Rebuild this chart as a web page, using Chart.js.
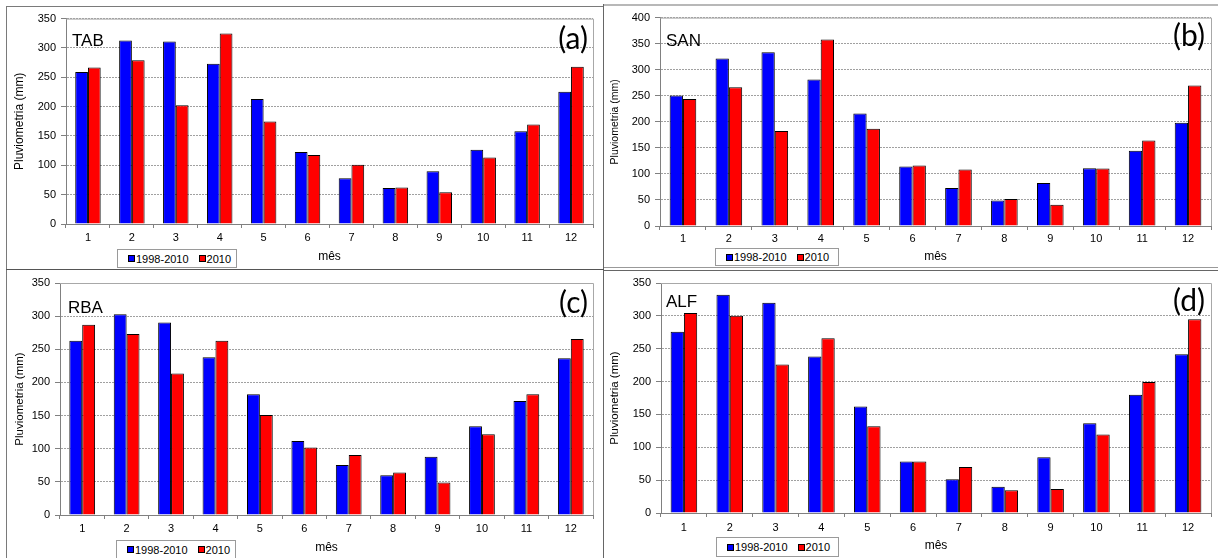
<!DOCTYPE html>
<html><head><meta charset="utf-8">
<script src="https://cdn.jsdelivr.net/npm/chart.js@4.4.1/dist/chart.umd.min.js"></script>
<style>
html,body{margin:0;padding:0;background:#fff;}
body{width:1218px;height:558px;position:relative;overflow:hidden;font-family:"Liberation Sans",Arial,sans-serif;}
.cv{position:absolute;}
.ln{position:absolute;background:#7a7a7a;}
.leg{position:absolute;box-sizing:border-box;border:1px solid #9a9a9a;background:#fff;font-size:11px;color:#000;display:flex;align-items:center;white-space:nowrap;}
.sw{display:inline-block;width:7px;height:7px;box-sizing:border-box;border:1px solid #000;margin-right:1px;}
</style></head><body>
<div class="ln" style="left:6px;top:6px;width:598px;height:1px;"></div>
<div class="ln" style="left:6px;top:6px;width:1px;height:552px;"></div>
<div class="ln" style="left:603px;top:4px;width:1px;height:554px;background:#666;"></div>
<div class="ln" style="left:604px;top:4px;width:614px;height:2px;background:#b8b8b8;"></div>
<div class="ln" style="left:6px;top:269px;width:598px;height:1px;background:#555;"></div>
<div class="ln" style="left:604px;top:267px;width:614px;height:1px;background:#999;"></div>
<div class="ln" style="left:604px;top:270px;width:614px;height:1px;background:#666;"></div>
<script>
// ---- data ----
const months = ['1','2','3','4','5','6','7','8','9','10','11','12'];
const seriesNames = ['1998-2010', '2010'];
const stations = ['TAB', 'SAN', 'RBA', 'ALF'];
const panelTags = ['(a)', '(b)', '(c)', '(d)'];
const xTitle = 'mês';
const yTitle = 'Pluviometria (mm)';
const yTicks350 = [0, 50, 100, 150, 200, 250, 300, 350];
const yTicks400 = [0, 50, 100, 150, 200, 250, 300, 350, 400];

const tabMean = [259, 312.5, 311, 273, 213, 122.5, 78, 61.5, 90, 126.5, 158, 225.5];
const tab2010 = [266.5, 279, 202.5, 324.5, 174.5, 117.5, 101, 62, 54, 113.5, 169.5, 268];
const sanMean = [250.5, 321.5, 333.5, 281, 216, 114, 73, 49, 82.5, 111, 144.5, 198];
const san2010 = [244, 266.5, 182.5, 358, 186.5, 116, 108.5, 52, 41, 110.5, 164, 269.5];
const rbaMean = [263, 303, 290.5, 238, 182, 111.5, 75.5, 60, 88, 134, 172, 236.5];
const rba2010 = [287, 273, 213.5, 263, 151, 102, 90.5, 64, 49, 122, 182, 265.5];
const alfMean = [276, 332, 320, 238, 162, 78.5, 51.5, 40, 85, 136.5, 180, 241.5];
const alf2010 = [304.5, 300, 226, 266, 132, 78.5, 70, 34.5, 36.5, 119.5, 199.5, 295];

// ---- styles / layout ----
const F = '"Liberation Sans", Arial, sans-serif';
const colors = ['#0000ff', '#ff0000'];

const panels = [
  {name:stations[0], tag:panelTags[0], mean:tabMean, cur:tab2010, ticks:yTicks350,
   L:7, T:7, W:596, H:261, yW:59, xH:44, padTop:11, padRight:10, xPad:3, xtPad:3.8,
   ytSize:12, ytPad:5.8, nameDx:6, nameDy:27, tagDx:5, tagDy:20,
   leg:{l:117, t:249, w:120, h:19}},
  {name:stations[1], tag:panelTags[1], mean:sanMean, cur:san2010, ticks:yTicks400,
   L:604, T:6, W:614, H:262, yW:56, xH:42, padTop:11, padRight:7, xPad:2, xtPad:3.8,
   ytSize:10.5, ytPad:4.7, nameDx:6, nameDy:28, tagDx:6, tagDy:18,
   leg:{l:715, t:248, w:124, h:18}},
  {name:stations[2], tag:panelTags[2], mean:rbaMean, cur:rba2010, ticks:yTicks350,
   L:7, T:271, W:596, H:287, yW:53, xH:43, padTop:12, padRight:10, xPad:3, xtPad:2.8,
   ytSize:11.5, ytPad:5.6, nameDx:8, nameDy:30, tagDx:5, tagDy:19,
   leg:{l:116, t:540, w:120, h:19}},
  {name:stations[3], tag:panelTags[3], mean:alfMean, cur:alf2010, ticks:yTicks350,
   L:604, T:271, W:614, H:287, yW:57, xH:45, padTop:12, padRight:7, xPad:4, xtPad:4.8,
   ytSize:11.5, ytPad:4.1, nameDx:5, nameDy:24, tagDx:6, tagDy:17,
   leg:{l:716, t:537, w:123, h:20}}
];

function makeLegend(p) {
  const d = document.createElement('div');
  d.className = 'leg';
  d.style.left = p.leg.l + 'px'; d.style.top = p.leg.t + 'px';
  d.style.width = p.leg.w + 'px'; d.style.height = p.leg.h + 'px';
  d.style.paddingLeft = '10px';
  seriesNames.forEach((n, i) => {
    const s = document.createElement('span');
    s.className = 'sw'; s.style.background = colors[i];
    if (i > 0) s.style.marginLeft = '10px';
    d.appendChild(s);
    const t = document.createElement('span');
    t.textContent = n;
    d.appendChild(t);
  });
  document.body.appendChild(d);
}

function makeChart(p) {
  const cv = document.createElement('canvas');
  cv.className = 'cv';
  cv.style.left = p.L + 'px'; cv.style.top = p.T + 'px';
  cv.width = p.W; cv.height = p.H;
  cv.style.width = p.W + 'px'; cv.style.height = p.H + 'px';
  document.body.appendChild(cv);

  const framePlugin = {
    id: 'frame',
    beforeDatasetsDraw(chart) {
      const a = chart.chartArea, ctx = chart.ctx;
      ctx.save();
      ctx.strokeStyle = '#a8a8a8'; ctx.lineWidth = 1;
      ctx.beginPath();
      ctx.moveTo(a.left, a.top + 0.5); ctx.lineTo(a.right + 0.5, a.top + 0.5);
      ctx.lineTo(a.right + 0.5, a.bottom);
      ctx.stroke();
      ctx.restore();
    },
    afterDraw(chart) {
      const a = chart.chartArea, ctx = chart.ctx;
      ctx.save();
      ctx.fillStyle = '#000';
      ctx.font = '17px ' + F;
      ctx.textAlign = 'left'; ctx.textBaseline = 'alphabetic';
      ctx.fillText(p.name, a.left + p.nameDx, a.top + p.nameDy);
      ctx.font = '30px Lato, "Open Sans", sans-serif';
      ctx.textAlign = 'right'; ctx.textBaseline = 'middle';
      ctx.fillText(p.tag, a.right - p.tagDx, a.top + p.tagDy + 1);
      ctx.restore();
    }
  };

  new Chart(cv, {
    type: 'bar',
    data: {
      labels: months,
      datasets: [
        {label: seriesNames[0], data: p.mean, backgroundColor: colors[0], borderColor: '#000', borderWidth: 1, borderSkipped: 'bottom'},
        {label: seriesNames[1], data: p.cur, backgroundColor: colors[1], borderColor: '#000', borderWidth: 1, borderSkipped: 'bottom'}
      ]
    },
    options: {
      responsive: false, animation: false, devicePixelRatio: 1,
      layout: {padding: {top: p.padTop, right: p.padRight, left: 0, bottom: 0}},
      plugins: {legend: {display: false}, tooltip: {enabled: false}},
      datasets: {bar: {categoryPercentage: 0.58, barPercentage: 1}},
      scales: {
        x: {
          grid: {display: true, offset: true, drawOnChartArea: false, drawTicks: true, tickLength: 4, color: '#808080', tickColor: '#808080'},
          border: {display: true, color: '#808080'},
          ticks: {padding: p.xPad, color: '#000', font: {size: 11, family: F}, maxRotation: 0, autoSkip: false},
          title: {display: true, text: xTitle, color: '#000', font: {size: 12, family: F}, padding: {top: 0, bottom: p.xtPad}},
          afterFit: (s) => { s.height = p.xH; }
        },
        y: {
          min: p.ticks[0], max: p.ticks[p.ticks.length - 1],
          ticks: {stepSize: p.ticks[1] - p.ticks[0], padding: 5, color: '#000', font: {size: 11, family: F}},
          grid: {color: '#a0a0a0', tickColor: '#808080', tickLength: 5, lineWidth: 1},
          border: {display: true, color: '#808080', dash: [2, 1]},
          title: {display: true, text: yTitle, color: '#000', font: {size: p.ytSize, family: F}, padding: {top: p.ytPad, bottom: 0}},
          afterFit: (s) => { s.width = p.yW; }
        }
      }
    },
    plugins: [framePlugin]
  });
  makeLegend(p);
}

panels.forEach(makeChart);
</script>
</body></html>
